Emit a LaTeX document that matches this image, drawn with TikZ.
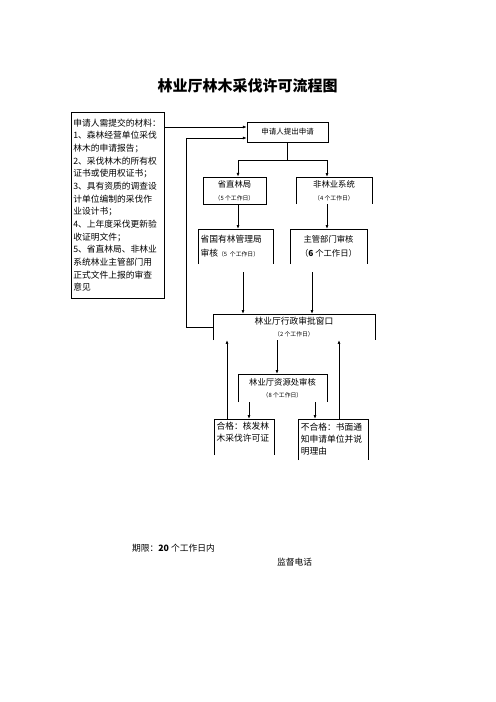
\documentclass[tikz,border=0pt]{standalone}
\usepackage{fontspec}
\setmainfont{Noto Sans CJK SC}
\usepackage{xcolor}
\usepackage{tikz}
\usetikzlibrary{arrows.meta}
\newcommand{\workday}[1]{{\fontsize{7}{8}\selectfont（#1 个工作日）}}

\begin{document}
\begin{tikzpicture}[x=1.2pt, y=-1.2pt,
		box/.style={draw, line width=0.8pt, inner sep=0pt, align=center},
		openbox/.style={inner sep=0pt, align=center},
		edge/.style={line width=0.8pt},
		arr/.style={edge, -{Latex[length=4.5pt,width=3.5pt]}},
		body/.style={font=\fontsize{10}{15.6}\selectfont}]
		\tikzset{every node/.append style={body}}
		\fill[white] (0,0) rectangle (496,702);
		\useasboundingbox (0,0) rectangle (496,702);
		\node [font=\fontsize{18}{20}\selectfont\bfseries] (title) at (247.5,86) {林业厅林木采伐许可流程图};
		\node [box, minimum width=111.6pt, minimum height=223.2pt, text width=106pt, align=left,
			font=\fontsize{10.5}{15.2}\selectfont] (mat) at (117.5,205)
			{申请人需提交的材料：\\1、森林经营单位采伐\\林木的申请报告；\\2、采伐林木的所有权\\证书或使用权证书；\\3、具有资质的调查设\\计单位编制的采伐作\\业设计书；\\4、上年度采伐更新验\\收证明文件；\\5、省直林局、非林业\\系统林业主管部门用\\正式文件上报的审查\\意见};
		\node [box, minimum width=97.2pt, minimum height=24pt, font=\fontsize{9}{11}\selectfont] (apply) at (287.5,132) {申请人提出申请};
		\node [box, minimum width=75.6pt, minimum height=32.4pt] (prov) at (234.5,190.5) {省直林局\\\workday{5}};
		\node [openbox, minimum width=91.2pt, minimum height=32.4pt] (nonfor) at (334,190.5) {非林业系统\\\workday{4}};
		\node [openbox, minimum width=90pt, minimum height=42pt, text width=84pt, align=left,
			font=\fontsize{10.5}{16.8}\selectfont] (stfor) at (235.5,246.5) {省国有林管理局\\审核\workday{5}};
		\node [openbox, minimum width=92.4pt, minimum height=42pt, font=\fontsize{10}{16.8}\selectfont] (dept) at (328.5,246.5) {主管部门审核\\（\textbf{6} 个工作日）};
		\node [openbox, minimum width=194.4pt, minimum height=31.2pt, font=\fontsize{10.5}{14.4}\selectfont] (window) at (294,327) {林业厅行政审批窗口\\\workday{2}};
		\node [openbox, minimum width=106.8pt, minimum height=33.6pt, font=\fontsize{10}{14.4}\selectfont] (review) at (282.5,388) {林业厅资源处审核\\\workday{8}};
		\node [openbox, minimum width=72pt, minimum height=31.2pt, text width=66pt, align=left,
			font=\fontsize{10.5}{14.4}\selectfont] (pass) at (244,432) {合格：核发林\\木采伐许可证};
		\node [openbox, minimum width=84pt, minimum height=49.2pt, text width=77pt, align=left,
			font=\fontsize{10.5}{14.4}\selectfont] (fail) at (333,439.5) {不合格：书面通\\知申请单位并说\\明理由};
		\node [anchor=west, inner sep=0pt, font=\fontsize{10.5}{12}\selectfont] (limit) at (132,548) {期限：\textbf{20} 个工作日内};
		\node [anchor=west, inner sep=0pt, font=\fontsize{10.5}{12}\selectfont] (phone) at (277,562) {监督电话};

		\foreach \n in {nonfor,stfor,dept,window,review,fail}
			\draw[edge] (\n.south west) |- (\n.north east) -- (\n.south east);
		\draw[edge] ([yshift=-12pt]pass.south west) |- (pass.north east) -- ([yshift=-12pt]pass.south east);

		\coordinate (a1) at ([yshift=6pt]apply.west);
		\coordinate (a2) at ([yshift=-7.2pt]apply.west);
		\coordinate (colL) at (238,0);
		\coordinate (colR) at (327,0);
		\coordinate (inL) at ([xshift=9pt,yshift=-9.6pt]stfor.south);
		\coordinate (inR) at ([xshift=-19.8pt,yshift=-9.6pt]dept.south);
		\coordinate (mid) at ([xshift=-6.6pt]review.north);
		\coordinate (p1) at ([xshift=6pt]pass.north);
		\coordinate (f1) at ([xshift=-21.6pt]fail.north);
		\coordinate (u1) at ([xshift=-20.4pt]pass.north);
		\coordinate (u2) at ([xshift=7.2pt]fail.north);

		\draw[arr] (mat.east |- a1) -- (a1);
		\draw[arr] (window.west) -- ++(-27,0) |- (a2);
		\draw[edge] (apply.south) -- ++(0,18) coordinate (split);
		\draw[edge] (split -| colL) -- (split -| colR);
		\draw[arr] (split -| colL) -- (prov.north -| colL);
		\draw[arr] (split -| colR) -- (nonfor.north -| colR);
		\draw[arr] (prov.south -| colL) -- (stfor.north -| colL);
		\draw[arr] (nonfor.south -| colR) -- (dept.north -| colR);
		\draw[arr] (inL) -- (inL |- window.north);
		\draw[arr] (inR) -- (inR |- window.north);
		\draw[arr] (window.south -| mid) -- (mid);
		\draw[arr] (review.south -| p1) -- (p1);
		\draw[arr] (review.south -| f1) -- (f1);
		\draw[arr] (u1) -- (u1 |- window.south);
		\draw[arr] (u2) -- (u2 |- window.south);
	\end{tikzpicture}
\end{document}
